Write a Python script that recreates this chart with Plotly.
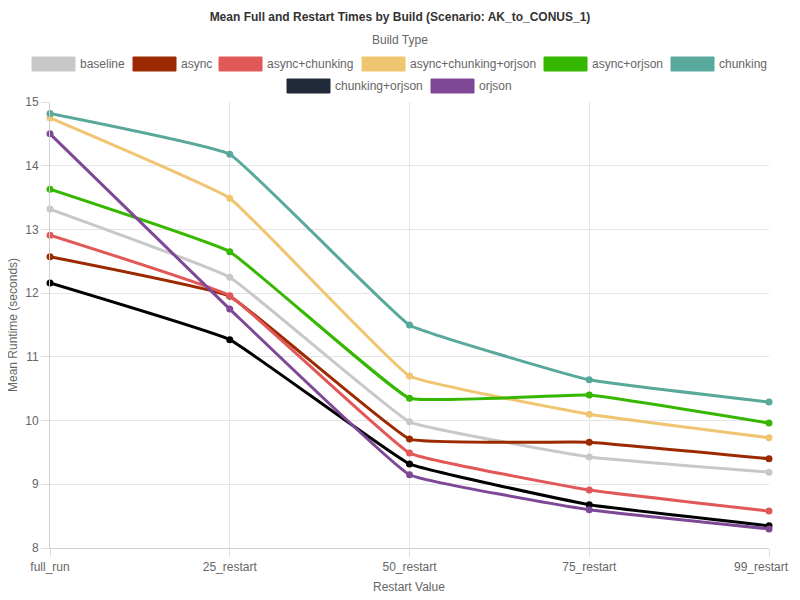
import plotly.graph_objects as go

# restart categories on the x axis
restarts = ["full_run", "25_restart", "50_restart", "75_restart", "99_restart"]

builds = [
    "baseline",
    "async",
    "async+chunking",
    "async+chunking+orjson",
    "async+orjson",
    "chunking",
    "chunking+orjson",
    "orjson",
]

# mean runtime (seconds)
baseline = [13.32, 12.25, 9.98, 9.43, 9.19]
async_ = [12.57, 11.95, 9.71, 9.66, 9.40]
async_chunking = [12.91, 11.96, 9.49, 8.91, 8.58]
async_chunking_orjson = [14.75, 13.49, 10.70, 10.10, 9.73]
async_orjson = [13.63, 12.65, 10.35, 10.40, 9.96]
chunking = [14.82, 14.18, 11.50, 10.64, 10.29]
chunking_orjson = [12.16, 11.27, 9.32, 8.68, 8.35]
orjson = [14.50, 11.75, 9.15, 8.60, 8.30]

series = [
    baseline,
    async_,
    async_chunking,
    async_chunking_orjson,
    async_orjson,
    chunking,
    chunking_orjson,
    orjson,
]

line_colors = ["#c8c8c8", "#9c2a00", "#e25859", "#f0c571", "#36b700",
               "#58a89b", "#000000", "#7e4896"]
legend_colors = ["#c8c8c8", "#9c2a00", "#e25859", "#f0c571", "#36b700",
                 "#58a89b", "#212a38", "#7e4896"]

FONT = "Liberation Sans, Arial, Helvetica, sans-serif"
# page body has an 8px margin, so the figure is drawn 8px in from the corner
OFF = 8
W, H = 800 - OFF, 600 - OFF
L, R, T, B = 50, 769, 102, 548  # plot area in screen pixels


def px(x):
    return (x - L) / (R - L)


def py(y):
    return (B - y) / (B - T)


fig = go.Figure()
for name, values, color in zip(builds, series, line_colors):
    fig.add_trace(
        go.Scatter(
            x=restarts,
            y=values,
            name=name,
            mode="lines+markers",
            line=dict(color=color, width=3, shape="spline", smoothing=0.25),
            marker=dict(color=color, size=7),
            cliponaxis=False,
            showlegend=False,
        )
    )

# chart.js style legend: coloured boxes with labels
legend_boxes = [
    (32, 64), (133, 64), (219, 64), (362, 64), (544, 64), (671, 64),
    (287, 86), (431, 86),
]
shapes = []
annotations = []
for name, color, (bx, by) in zip(builds, legend_colors, legend_boxes):
    shapes.append(
        dict(
            type="rect",
            xref="paper", yref="paper",
            x0=px(bx), x1=px(bx + 43),
            y0=py(by + 7), y1=py(by - 7),
            fillcolor=color,
            line=dict(color=color, width=1),
            layer="above",
        )
    )
    annotations.append(
        dict(
            text=name,
            xref="paper", yref="paper",
            x=px(bx + 46), y=py(by),
            xanchor="left", yanchor="middle",
            showarrow=False,
            font=dict(family=FONT, size=12, color="#666666"),
        )
    )

annotations += [
    dict(
        text="Build Type",
        xref="paper", yref="paper",
        x=px(400), y=py(40),
        xanchor="center", yanchor="middle",
        showarrow=False,
        font=dict(family=FONT, size=12, color="#666666"),
    ),
    dict(
        text="Mean Runtime (seconds)",
        xref="paper", yref="paper",
        x=px(13), y=py(325),
        xanchor="center", yanchor="middle",
        textangle=-90,
        showarrow=False,
        font=dict(family=FONT, size=12, color="#666666"),
    ),
    dict(
        text="Restart Value",
        xref="paper", yref="paper",
        x=px(409), y=py(587),
        xanchor="center", yanchor="middle",
        showarrow=False,
        font=dict(family=FONT, size=12, color="#666666"),
    ),
    # last category label, nudged in so it is not cut at the page edge
    dict(
        text=restarts[-1],
        xref="x", yref="paper",
        x=restarts[-1], y=py(567),
        xanchor="right", yanchor="middle",
        xshift=22,
        showarrow=False,
        font=dict(family=FONT, size=12, color="#666666"),
    ),
]

axis_style = dict(
    showgrid=True,
    gridcolor="#e5e5e5",
    gridwidth=1,
    showline=True,
    linecolor="#d0d0d0",
    ticks="outside",
    ticklen=8,
    tickcolor="#e0e0e0",
    tickfont=dict(family=FONT, size=12, color="#666666"),
    zeroline=False,
    automargin=False,
)

fig.update_layout(
    width=W,
    height=H,
    margin=dict(l=L - OFF, r=OFF + W - R, t=T - OFF, b=OFF + H - B),
    paper_bgcolor="white",
    plot_bgcolor="white",
    font=dict(family=FONT, size=12, color="#666666"),
    title=dict(
        text="<b>Mean Full and Restart Times by Build (Scenario: AK_to_CONUS_1)</b>",
        x=px(400), xref="paper", xanchor="center",
        y=1 - (17 - OFF) / H, yanchor="middle",
        font=dict(family=FONT, size=12, color="#333333"),
    ),
    shapes=shapes,
    annotations=annotations,
    xaxis=dict(
        type="category",
        range=[0, 4],
        tickvals=restarts,
        ticktext=restarts[:-1] + [""],
        **axis_style,
    ),
    yaxis=dict(range=[8, 15], dtick=1, **axis_style),
)

fig.write_html("out.html")
